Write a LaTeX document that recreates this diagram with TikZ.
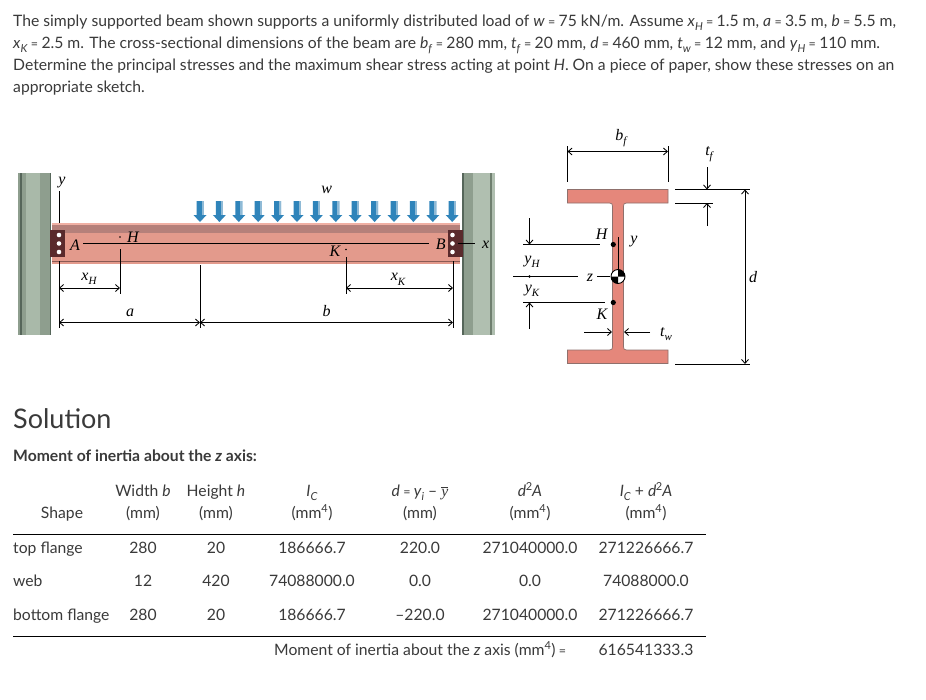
\documentclass[tikz,border=0pt]{standalone}
\usepackage{fontspec}
\setmainfont{Lato}
\newfontfamily\figfont{Liberation Serif}
\usetikzlibrary{arrows.meta}
\definecolor{txt}{HTML}{3A3A3A}
\definecolor{beamc}{HTML}{E39A8C}
\definecolor{beamd}{HTML}{B5807A}
\definecolor{beaml}{HTML}{F0B0A4}
\definecolor{beame}{HTML}{8A5A54}
\definecolor{secc}{HTML}{E5877B}
\definecolor{secd}{HTML}{8F706C}
\definecolor{platec}{HTML}{5A2A2C}
\definecolor{loadc}{HTML}{2F84BA}
\definecolor{loadl}{HTML}{8FBAD6}
\definecolor{colm}{HTML}{8E9E8E}
\definecolor{coll}{HTML}{A9B9A9}
\definecolor{colk}{HTML}{56665A}
\definecolor{colp}{HTML}{B0BFB0}
\definecolor{cold}{HTML}{6F7F6F}
\newcommand{\sbt}[1]{\raisebox{-0.28em}{\fontsize{11}{11}\selectfont\textit{#1}}}
\newcommand{\eqn}{\kern-0.7pt{\fontsize{12.5}{12.5}\selectfont=}\kern-0.7pt}
\tikzset{
  x=1pt,y=-1pt,
  para/.style={anchor=base west,inner sep=0,text=txt,font=\fontsize{15.7}{15.7}\selectfont},
  cell/.style={anchor=base,inner sep=0,text=txt,font=\fontsize{15.7}{15.7}\selectfont},
  lft/.style={cell,anchor=base west},
  fig/.style={anchor=base,inner sep=0,text=black,font=\figfont\itshape\fontsize{16}{16}\selectfont},
  thin line/.style={draw=black,line width=0.85pt},
  dim/.style={thin line,{Straight Barb[length=4pt,width=7pt]}-{Straight Barb[length=4pt,width=7pt]}},
  tip/.style={thin line,-{Straight Barb[length=4pt,width=7pt]}},
  rule/.style={draw=black,line width=0.8pt},
  hole/.style={circle,fill=white,inner sep=0,minimum size=4.6pt},
}
\newcommand{\loadarrow}[1]{%
  \fill[loadc] (#1-3.5,201) -- (#1+3.5,201) -- (#1+3.5,215) -- (#1+6.5,215) -- (#1,222) -- (#1-6.5,215) -- (#1-3.5,215) -- cycle;
  \fill[loadl] (#1+1.5,201) rectangle (#1+3.5,215);
}
\begin{document}
\begin{tikzpicture}
\useasboundingbox (0,0) rectangle (926,699);
\fill[white] (0,0) rectangle (926,699);
% statement
\node[para] (l1) at (13,26.5) {The simply supported beam shown supports a uniformly distributed load of \textit{w} \eqn{} 75 kN/m. Assume \textit{x}\sbt{H} \eqn{} 1.5 m, \textit{a} \eqn{} 3.5 m, \textit{b} \eqn{} 5.5 m,};
\node[para] (l2) at (13,48.5) {\textit{x}\sbt{K} \eqn{} 2.5 m. The cross-sectional dimensions of the beam are \textit{b}\sbt{f} \eqn{} 280 mm, \textit{t}\sbt{f} \eqn{} 20 mm, \textit{d} \eqn{} 460 mm, \textit{t}\sbt{w} \eqn{} 12 mm, and \textit{y}\sbt{H} \eqn{} 110 mm.};
\node[para] (l3) at (13,70.5) {Determine the principal stresses and the maximum shear stress acting at point \textit{H}. On a piece of paper, show these stresses on an};
\node[para] (l4) at (13,92.5) {appropriate sketch.};
% columns
\fill[colm] (18,173) rectangle (51,335);
\fill[coll] (26,173) rectangle (40,335);
\fill[colk] (20,173) rectangle (22,335);
\fill[colk] (49.5,173) rectangle (51,335);
\fill[colp] (473,173) rectangle (495,335);
\fill[colm] (462,173) rectangle (473,335);
\fill[colk] (462,173) rectangle (463.5,335);
\fill[cold] (490,173) rectangle (492,335);
% beam
\fill[beamc] (52,223) rectangle (460,263.5);
\fill[beamd] (52,224.5) rectangle (460,233);
\fill[beaml] (52,223) rectangle (460,224.5);
\fill[beame] (52,261) rectangle (460,262);
\fill[platec] (50,230) rectangle (65,257);
\fill[platec] (448,230) rectangle (463,257);
\foreach \yy in {235,243.5,252}{\node[hole] at (59,\yy) {}; \node[hole] at (452.5,\yy) {};}
% loads
\foreach \xx in {200,219.4,238.8,258.2,277.6,297,316.4,335.8,355.2,374.6,394,413.4,432.8,452.2}{\loadarrow{\xx}}
% beam lines
\draw[thin line] (59,191) -- (59,223);
\draw[thin line] (59,261) -- (59,328);
\draw[thin line] (83,243.5) -- (429,243.5);
\draw[thin line] (458,243.5) -- (475,243.5);
\draw[thin line] (120,249) -- (120,294);
\draw[thin line] (200,265) -- (200,328);
\draw[thin line] (346,257) -- (346,294);
\draw[thin line] (453,261) -- (453,328);
\draw[dim] (59,288) -- (120,288);
\draw[dim] (346,288) -- (453,288);
\draw[dim] (59,322.5) -- (200,322.5);
\draw[dim] (200,322.5) -- (453,322.5);
\fill (120,237) circle (0.8pt);
\fill (346,249.5) circle (0.8pt);
\node[fig] (ly) at (62,184) {y};
\node[fig] (lA) at (75,250) {A};
\node[fig] (lH) at (133,242) {H};
\node[fig] (lxH) at (89,280) {x\sbt{H}};
\node[fig] (la) at (130,316.7) {a};
\node[fig] (lK) at (335,256.7) {K};
\node[fig] (lB) at (440.7,249) {B};
\node[fig] (lx) at (485.7,248) {x};
\node[fig] (lw) at (326.7,193) {w};
\node[fig] (lxK) at (398,280.7) {x\sbt{K}};
\node[fig] (lb) at (326.7,316.7) {b};
% section
\fill[secc,draw=secd,line width=0.7pt] (567.5,189.5) -- (668,189.5) -- (668,203) -- (626.5,203)
  .. controls (624.3,203) and (623.5,204) .. (623.5,206) -- (623.5,347)
  .. controls (623.5,349) and (624.3,350) .. (626.5,350) -- (668,350) -- (668,363.5) -- (567.5,363.5) -- (567.5,350) -- (609.5,350)
  .. controls (611.7,350) and (612.5,349) .. (612.5,347) -- (612.5,206)
  .. controls (612.5,204) and (611.7,203) .. (609.5,203) -- (567.5,203) -- cycle;
\draw[thin line] (567.5,146) -- (567.5,182);
\draw[thin line] (668,146) -- (668,182);
\draw[dim] (567.5,151.5) -- (668,151.5);
\draw[thin line] (675,189.5) -- (750,189.5);
\draw[thin line] (675,203) -- (713,203);
\draw[thin line] (675,364) -- (750,364);
\draw[tip] (707,167) -- (707,189.5);
\draw[tip] (707,226) -- (707,203);
\draw[dim] (745,189.5) -- (745,364);
\draw[tip] (529.5,218) -- (529.5,244.5);
\draw[thin line] (523,244.5) -- (600,244.5);
\draw[thin line] (513,276.5) -- (578,276.5);
\draw[thin line] (597,276.5) -- (610,276.5);
\fill (529.5,276.5) circle (1.4pt);
\draw[thin line] (523,302.5) -- (605,302.5);
\draw[tip] (529.5,329) -- (529.5,302.5);
\fill (613.3,244.5) circle (2.6pt);
\fill (613.3,302.5) circle (2.6pt);
\draw[tip] (584,332) -- (612,332);
\draw[tip] (650,332) -- (624,332);
\draw[thin line] (618.3,237) -- (618.3,270);
% centroid symbol
\coordinate (cg) at (618,276.5);
\fill[white] (cg) circle (7pt);
\fill[black] (cg) -- +(180:7pt) arc (180:270:7pt) -- cycle;
\fill[black] (cg) -- +(0:7pt) arc (0:90:7pt) -- cycle;
\draw[thin line,line width=0.9pt] (cg) circle (7pt);
\node[fig] (lbf) at (621,140) {b\sbt{f}};
\node[fig] (ltf) at (709,155) {t\sbt{f}};
\node[fig] (ld) at (753,282.7) {d};
\node[fig] (lsH) at (601.7,239) {H};
\node[fig] (lsy) at (634,243) {y};
\node[fig] (lyH) at (532,263) {y\sbt{H}};
\node[fig] (lz) at (590,281) {z};
\node[fig] (lyK) at (532,292) {y\sbt{K}};
\node[fig] (lsK) at (602,319) {K};
\node[fig] (ltw) at (666,336) {t\sbt{w}};
% solution
\node[para,font=\fontsize{27}{27}\selectfont] (sol) at (13,428) {Solution};
\node[para,font=\bfseries\fontsize{15.7}{15.7}\selectfont] (sub) at (13,461.7) {Moment of inertia about the \textit{z} axis:};
% table
\node[cell] (h1) at (62,518) {Shape};
\node[cell] (h2a) at (143,496) {Width \textit{b}};
\node[cell] (h2b) at (143,518) {(mm)};
\node[cell] (h3a) at (216,496) {Height \textit{h}};
\node[cell] (h3b) at (216,518) {(mm)};
\node[cell] (h4a) at (312,496) {\textit{I}\sbt{C}};
\node[cell] (h4b) at (312,518) {(mm\textsuperscript{4})};
\node[cell] (h5a) at (420,496) {\textit{d} \eqn{} \textit{y}\sbt{i} – $\overline{\hbox{\figfont\itshape y}}$};
\node[cell] (h5b) at (420,518) {(mm)};
\node[cell] (h6a) at (530,496) {\textit{d}\kern-0.5pt\textsuperscript{2}\kern-0.5pt\textit{A}};
\node[cell] (h6b) at (530,518) {(mm\textsuperscript{4})};
\node[cell] (h7a) at (646,496) {\textit{I}\sbt{C} + \textit{d}\kern-0.5pt\textsuperscript{2}\kern-0.5pt\textit{A}};
\node[cell] (h7b) at (646,518) {(mm\textsuperscript{4})};
\coordinate (r1a) at (13,534); \coordinate (r1b) at (706,534);
\coordinate (r2a) at (13,636); \coordinate (r2b) at (706,636);
\draw[rule] (r1a) -- (r1b);
\draw[rule] (r2a) -- (r2b);
\node[lft] (a1) at (13,553.5) {top flange};
\node[cell] (a2) at (143,553.5) {280};
\node[cell] (a3) at (216,553.5) {20};
\node[cell] (a4) at (312,553.5) {186666.7};
\node[cell] (a5) at (420,553.5) {220.0};
\node[cell] (a6) at (530,553.5) {271040000.0};
\node[cell] (a7) at (646,553.5) {271226666.7};
\node[lft] (b1) at (13,586.7) {web};
\node[cell] (b2) at (143,586.7) {12};
\node[cell] (b3) at (216,586.7) {420};
\node[cell] (b4) at (312,586.7) {74088000.0};
\node[cell] (b5) at (420,586.7) {0.0};
\node[cell] (b6) at (530,586.7) {0.0};
\node[cell] (b7) at (646,586.7) {74088000.0};
\node[lft] (c1) at (13,620.2) {bottom flange};
\node[cell] (c2) at (143,620.2) {280};
\node[cell] (c3) at (216,620.2) {20};
\node[cell] (c4) at (312,620.2) {186666.7};
\node[cell] (c5) at (420,620.2) {–220.0};
\node[cell] (c6) at (530,620.2) {271040000.0};
\node[cell] (c7) at (646,620.2) {271226666.7};
\node[lft] (t1) at (274,655.2) {Moment of inertia about the \textit{z} axis (mm\textsuperscript{4}) \eqn};
\node[cell] (t2) at (646,655.2) {616541333.3};
\end{tikzpicture}
\end{document}
